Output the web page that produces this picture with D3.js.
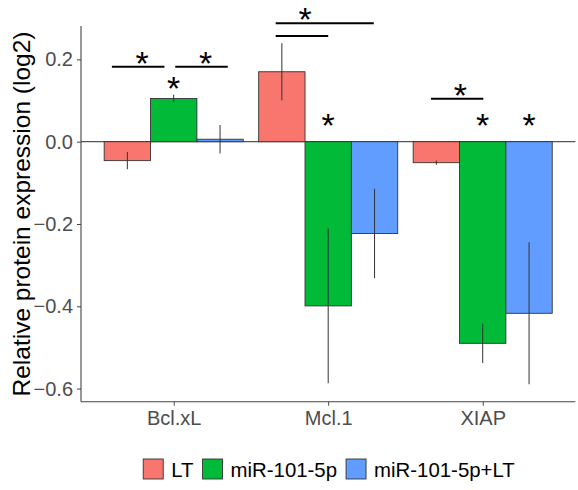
<!DOCTYPE html>
<html><head><meta charset="utf-8">
<script src="https://cdn.jsdelivr.net/npm/d3@7"></script>
<style>body{margin:0;background:#fff}svg{display:block}text{font-family:"Liberation Sans",Arial,sans-serif}</style>
</head><body><svg id="c" width="578" height="490"></svg>
<script>
const categories = ["Bcl.xL", "Mcl.1", "XIAP"];
const groups = ["LT", "miR-101-5p", "miR-101-5p+LT"];
const colors = ["#F8766D", "#00BA38", "#619CFF"];
const valLT = [-0.046, 0.170, -0.051];
const valMiR = [0.105, -0.399, -0.490];
const valCombo = [0.006, -0.223, -0.417];
const sdLT = [0.021, 0.0695, 0.005];
const sdMiR = [0.0095, 0.188, 0.048];
const sdCombo = [0.0345, 0.1085, 0.1725];
const yTicks = [0.2, 0.0, -0.2, -0.4, -0.6];
// significance brackets: [x1, x2, y] in category units / data units
const sigLines = [[0.6, 0.94, 0.182], [1.01, 1.35, 0.182], [1.66, 2.295, 0.288], [1.66, 2.0, 0.257], [2.665, 3.004, 0.1045]];
// stars: [x, y of glyph bottom]
const stars = [[0.795, 0.186], [1.207, 0.186], [1.0, 0.127], [1.85, 0.294], [2.0, 0.036], [2.856, 0.109], [3.0, 0.036], [3.3, 0.036]];

const values = [valLT, valMiR, valCombo];
const sds = [sdLT, sdMiR, sdCombo];
const svg = d3.select("#c");
const L = 81, R = 575.4, T = 26, B = 401.7;
const x = d3.scaleLinear().domain([0.4, 3.6]).range([L, R]);
const y = d3.scaleLinear().domain([0, 0.2]).range([141.7, 59.4]);
const bw = 0.3;

const bars = [];
groups.forEach((g, j) => categories.forEach((c, i) => {
  bars.push({g: j, pos: i + 1 + (j - 1) * bw, v: values[j][i], sd: sds[j][i]});
}));

// zero line
svg.append("line").attr("x1", L).attr("x2", R).attr("y1", y(0)).attr("y2", y(0))
  .attr("stroke", "#555").attr("stroke-width", 1.2);

svg.append("g").selectAll("rect").data(bars).join("rect")
  .attr("x", d => x(d.pos - bw / 2)).attr("width", d => x(d.pos + bw / 2) - x(d.pos - bw / 2))
  .attr("y", d => y(Math.max(0, d.v))).attr("height", d => Math.abs(y(d.v) - y(0)))
  .attr("fill", d => colors[d.g]).attr("stroke", "#333").attr("stroke-width", 0.9);

svg.append("g").selectAll("line").data(bars).join("line")
  .attr("x1", d => x(d.pos)).attr("x2", d => x(d.pos))
  .attr("y1", d => y(d.v - d.sd)).attr("y2", d => y(d.v + d.sd))
  .attr("stroke", "#333").attr("stroke-width", 1);

// axes
const yAxis = d3.axisLeft(y).tickValues(yTicks).tickSize(4).tickPadding(4)
  .tickFormat(d => d3.format(".1f")(d).replace("-", "\u2212"));
const gy = svg.append("g").attr("transform", `translate(${L},0)`).call(yAxis);
gy.select(".domain").remove();
gy.selectAll(".tick line").attr("stroke", "#444");
gy.selectAll(".tick text").attr("font-size", 20).attr("fill", "#4D4D4D")
  .attr("font-family", "Liberation Sans, Arial, sans-serif");
svg.append("line").attr("x1", L).attr("x2", L).attr("y1", T).attr("y2", B).attr("stroke", "#444").attr("stroke-width", 1.1);

const xAxis = d3.axisBottom(x).tickValues([1, 2, 3]).tickSize(4).tickPadding(5)
  .tickFormat(d => categories[d - 1]);
const gx = svg.append("g").attr("transform", `translate(0,${B})`).call(xAxis);
gx.select(".domain").remove();
gx.selectAll(".tick line").attr("stroke", "#444");
gx.selectAll(".tick text").attr("font-size", 20).attr("fill", "#4D4D4D")
  .attr("font-family", "Liberation Sans, Arial, sans-serif");
svg.append("line").attr("x1", L).attr("x2", R).attr("y1", B).attr("y2", B).attr("stroke", "#444").attr("stroke-width", 1.1);

svg.append("text").attr("transform", `translate(30,214) rotate(-90)`).attr("text-anchor", "middle")
  .attr("font-size", 24.5).attr("fill", "#000").text("Relative protein expression (log2)");

// significance
svg.append("g").selectAll("line").data(sigLines).join("line")
  .attr("x1", d => x(d[0])).attr("x2", d => x(d[1])).attr("y1", d => y(d[2])).attr("y2", d => y(d[2]))
  .attr("stroke", "#000").attr("stroke-width", 2);
const sfs = 34;
svg.append("g").selectAll("text").data(stars).join("text")
  .attr("x", d => x(d[0])).attr("y", d => y(d[1]) + 0.3 * sfs).attr("text-anchor", "middle")
  .attr("font-size", sfs).attr("fill", "#000").text("*");

// legend
const lg = svg.append("g");
const items = lg.selectAll("g").data(groups).join("g");
items.append("rect").attr("width", 20).attr("height", 20).attr("y", 459)
  .attr("fill", (d, i) => colors[i]).attr("stroke", "#333").attr("stroke-width", 0.9);
items.append("text").attr("x", 28).attr("y", 476.7).attr("font-size", 20.4).attr("fill", "#000").text(d => d);
let cx = 0; const pos = [];
items.each(function () {
  const w = 28 + this.querySelector("text").getComputedTextLength();
  pos.push(cx); cx += w + 9;
});
const total = cx - 9, start = 329 - total / 2;
items.attr("transform", (d, i) => `translate(${start + pos[i]},0)`);
</script></body></html>
